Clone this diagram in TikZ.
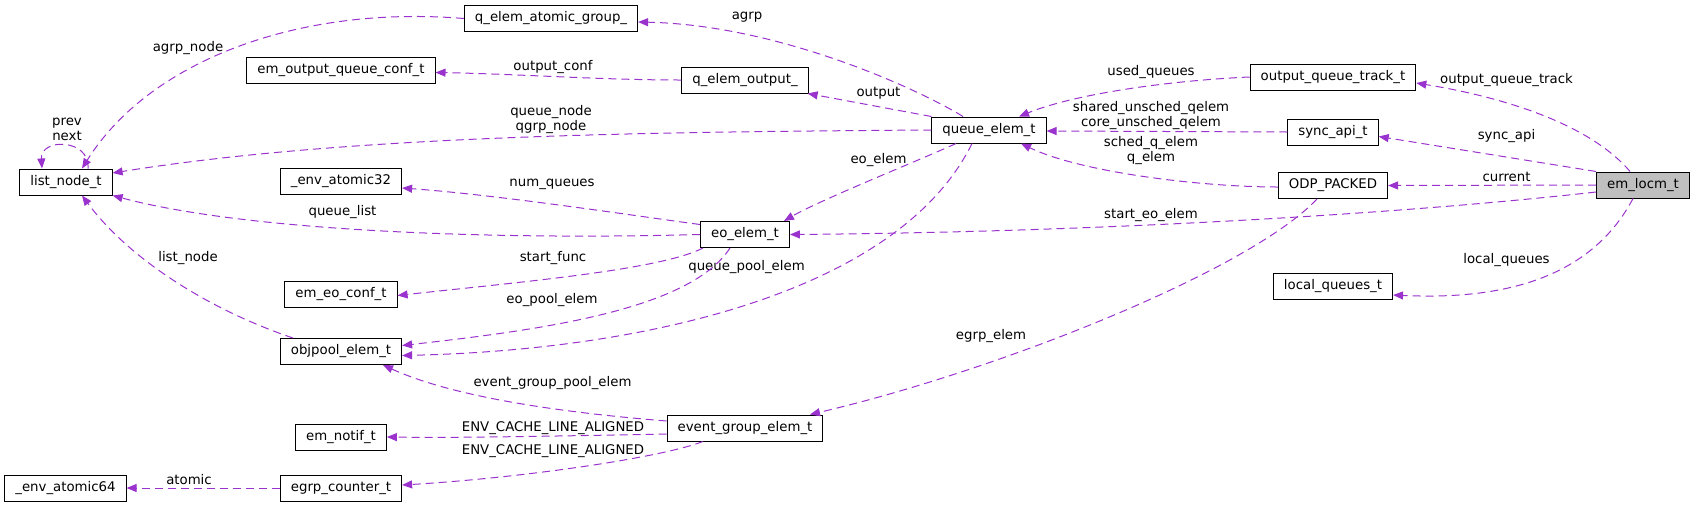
\documentclass[tikz,border=0pt]{standalone}
\usepackage{fontspec}
\setmainfont{DejaVu Sans}
\usetikzlibrary{arrows.meta}
\definecolor{edgepurple}{HTML}{9A32CD}

\begin{document}
\begin{tikzpicture}[x=1pt, y=-1pt, font=\fontsize{13.3}{15.5}\selectfont]
        \tikzstyle{member} = [rectangle, minimum height=26pt, inner xsep=10.5pt, inner ysep=0pt, text centered, draw=black, line width=1pt, fill=white]
        \tikzstyle{focus} = [member, fill=gray!50]
        \tikzstyle{lbl} = [inner sep=0pt, align=center]
        \tikzstyle{arrow} = [edgepurple, line width=1pt, dash pattern=on 8pt off 5pt, -{Triangle[length=10pt,width=8pt]}]

        \useasboundingbox (0,0) rectangle (1696,507);

        % struct boxes, one column per rank
        \node (listn) [member] at (66,182) {list\_node\_t};
        \node (atom64) [member] at (65.5,488) {\_env\_atomic64};
        \node (oqconf) [member] at (341,70.5) {em\_output\_queue\_conf\_t};
        \node (atom32) [member] at (341,181) {\_env\_atomic32};
        \node (eoconf) [member] at (341,294.5) {em\_eo\_conf\_t};
        \node (objpool) [member] at (341,351.5) {objpool\_elem\_t};
        \node (notif) [member] at (341,437) {em\_notif\_t};
        \node (egctr) [member] at (341,488) {egrp\_counter\_t};
        \node (qag) [member] at (551,18.5) {q\_elem\_atomic\_group\_};
        \node (qout) [member] at (745,80) {q\_elem\_output\_};
        \node (eoelem) [member] at (745,234.5) {eo\_elem\_t};
        \node (egrp) [member] at (745,428) {event\_group\_elem\_t};
        \node (qelem) [member] at (989,130) {queue\_elem\_t};
        \node (oqtrack) [member] at (1333,77) {output\_queue\_track\_t};
        \node (syncapi) [member] at (1333,132) {sync\_api\_t};
        \node (odp) [member] at (1333,185.5) {ODP\_PACKED};
        \node (localq) [member] at (1333,286.5) {local\_queues\_t};
        \node (locm) [focus] at (1643,185) {em\_locm\_t};

        % edge labels
        \node (l_agrpnode) [lbl] at (188,48) {agrp\_node};
        \node (l_prevnext) [lbl] at (67,129.5) {prev\\next};
        \node (l_atomic) [lbl] at (189,480) {atomic};
        \node (l_outconf) [lbl] at (553,67) {output\_conf};
        \node (l_qnode) [lbl] at (551,119.5) {queue\_node\\qgrp\_node};
        \node (l_numq) [lbl] at (552,184) {num\_queues};
        \node (l_qlist) [lbl] at (342.5,212) {queue\_list};
        \node (l_listnode) [lbl] at (188,258) {list\_node};
        \node (l_startfunc) [lbl] at (553,258) {start\_func};
        \node (l_eopool) [lbl] at (552,300) {eo\_pool\_elem};
        \node (l_egpool) [lbl] at (552.5,383) {event\_group\_pool\_elem};
        \node (l_envnotif) [lbl] at (553,428) {ENV\_CACHE\_LINE\_ALIGNED};
        \node (l_envctr) [lbl] at (553,451) {ENV\_CACHE\_LINE\_ALIGNED};
        \node (l_agrp) [lbl] at (747,17) {agrp};
        \node (l_output) [lbl] at (878.5,93) {output};
        \node (l_eoelem) [lbl] at (878.5,160) {eo\_elem};
        \node (l_qpool) [lbl] at (746.5,267) {queue\_pool\_elem};
        \node (l_egrpelem) [lbl] at (991,336) {egrp\_elem};
        \node (l_usedq) [lbl] at (1151,72) {used\_queues};
        \node (l_unsched) [lbl] at (1151,115.5) {shared\_unsched\_qelem\\core\_unsched\_qelem};
        \node (l_schedq) [lbl] at (1151,150.5) {sched\_q\_elem\\q\_elem};
        \node (l_starteo) [lbl] at (1151,215) {start\_eo\_elem};
        \node (l_oqtrack) [lbl] at (1506.5,80) {output\_queue\_track};
        \node (l_syncapi) [lbl] at (1506.5,136.5) {sync\_api};
        \node (l_current) [lbl] at (1506.5,176.5) {current};
        \node (l_localq) [lbl] at (1506.5,260) {local\_queues};

        % members: from owner to member type
        \draw [arrow] (qag.west) .. controls (300,5) and (150,60) .. ([xshift=16pt]listn.north);
        \draw [arrow] ([xshift=22pt]listn.north) .. controls (90,138) and (40,138) .. ([xshift=-24pt]listn.north);
        \draw [arrow] (qelem.west) .. controls (650,132) and (350,135) .. ([yshift=9pt]listn.east);
        \draw [arrow] (eoelem.west) .. controls (500,240) and (250,232) .. (listn.south east);
        \draw [arrow] (objpool.north) ++(-48,0) .. controls (210,310) and (130,260) .. ([xshift=16pt]listn.south);
        \draw [arrow] (qout.west) .. controls (600,80) and (520,74) .. ([yshift=-2pt]oqconf.east);
        \draw [arrow] ([yshift=10pt]eoelem.west) .. controls (650,218) and (500,195) .. ([yshift=-7pt]atom32.east);
        \draw [arrow] ([xshift=-42pt]eoelem.south) .. controls (660,270) and (520,282) .. ([yshift=-1pt]eoconf.east);
        \draw [arrow] ([xshift=-15pt]eoelem.south) .. controls (690,310) and (540,330) .. ([yshift=6pt]objpool.east);
        \draw [arrow] ([xshift=-17pt]qelem.south) .. controls (900,290) and (650,350) .. ([yshift=-4pt]objpool.east);
        \draw [arrow] ([yshift=7pt]egrp.west) .. controls (580,414) and (460,400) .. ([xshift=42pt]objpool.south);
        \draw [arrow] ([yshift=-6pt]egrp.west) .. controls (560,436) and (460,438) .. (notif.east);
        \draw [arrow] ([xshift=-42pt]egrp.south) .. controls (660,458) and (520,478) .. ([yshift=3pt]egctr.east);
        \draw [arrow] (egctr.west) -- (atom64.east);
        \draw [arrow] ([xshift=-26pt]qelem.north) .. controls (920,90) and (780,25) .. ([yshift=-3.5pt]qag.east);
        \draw [arrow] (qelem.north west) -- ([xshift=-1pt]qout.south east);
        \draw [arrow] ([xshift=-33pt]qelem.south) .. controls (920,160) and (820,200) .. ([xshift=39pt]eoelem.north);
        \draw [arrow] ([xshift=-16pt]odp.south) .. controls (1250,270) and (1000,370) .. ([xshift=65pt]egrp.north);
        \draw [arrow] (oqtrack.west) .. controls (1180,80) and (1080,92) .. ([xshift=30pt]qelem.north);
        \draw [arrow] (syncapi.west) -- ([yshift=-1pt]qelem.east);
        \draw [arrow] ([yshift=-1.5pt]odp.west) .. controls (1200,187) and (1080,172) .. ([xshift=32pt]qelem.south);
        \draw [arrow] ([xshift=-13pt]locm.north) .. controls (1595,130) and (1520,100) .. ([yshift=-6pt]oqtrack.east);
        \draw [arrow] (locm.north west) -- ([yshift=-4.5pt]syncapi.east);
        \draw [arrow] (locm.west) -- (odp.east);
        \draw [arrow] ([yshift=-7pt]locm.west) .. controls (1400,214) and (1100,232) .. (eoelem.east);
        \draw [arrow] ([xshift=-10pt]locm.south) .. controls (1590,280) and (1500,300) .. ([yshift=-8.5pt]localq.east);
    \end{tikzpicture}
\end{document}
